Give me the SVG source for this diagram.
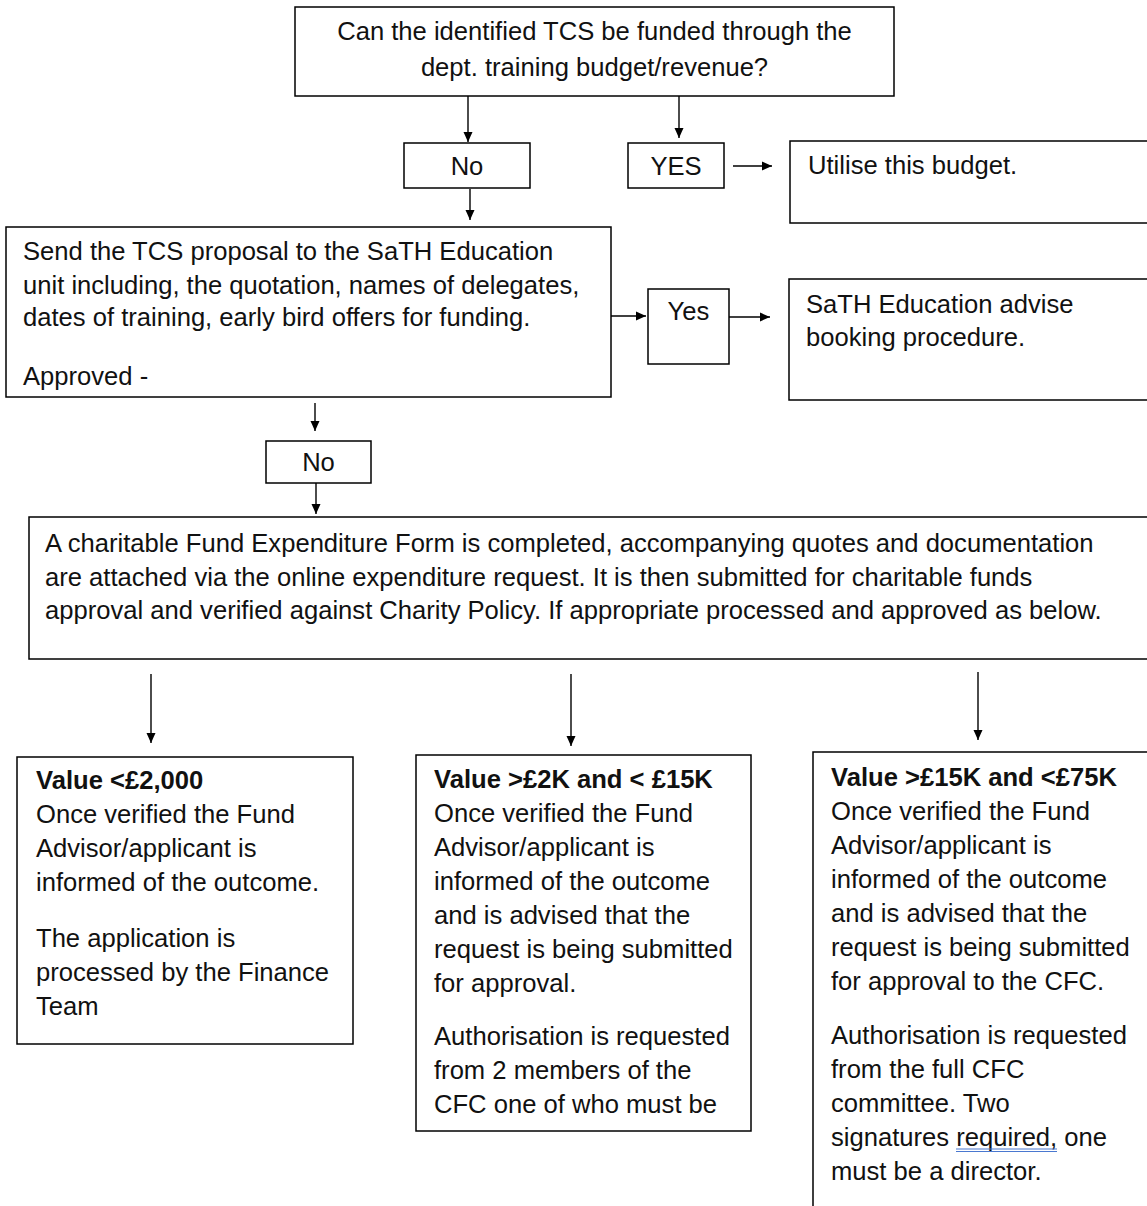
<svg xmlns="http://www.w3.org/2000/svg" width="1147" height="1206" viewBox="0 0 1147 1206">
<defs>
<marker id="ah" viewBox="0 0 10 10" refX="10" refY="5" markerWidth="10" markerHeight="10" markerUnits="userSpaceOnUse" orient="auto">
<path d="M0,0.5 L10,5 L0,9.5 Z" fill="#000"/>
</marker>
</defs>
<style>
.box{fill:#fff;stroke:#000;stroke-width:1.5}
.t{font-family:"Liberation Sans",Arial,sans-serif;font-size:25.6px;fill:#111}
.b{font-weight:bold}
.c{text-anchor:middle}
.ln{stroke:#000;stroke-width:1.4;fill:none;marker-end:url(#ah)}
</style>
<rect width="1147" height="1206" fill="#fff"/>

<g id="connectors">
<path class="ln" d="M468,96 V142"/>
<path class="ln" d="M679,96 V138"/>
<path class="ln" d="M733,166 H772" stroke="#555"/>
<path class="ln" d="M470,189 V220"/>
<path class="ln" d="M611,316 H646"/>
<path class="ln" d="M729,317 H770"/>
<path class="ln" d="M315,403 V431"/>
<path class="ln" d="M316,483 V514"/>
<path class="ln" d="M151,674 V743"/>
<path class="ln" d="M571,674 V746"/>
<path class="ln" d="M978,672 V740"/>
</g>

<g id="n-question">
<rect class="box" x="295" y="7" width="599" height="89"/>
<text class="t c" x="594.5" y="40">Can the identified TCS be funded through the</text>
<text class="t c" x="594.5" y="76">dept. training budget/revenue?</text>
</g>

<g id="n-no1">
<rect class="box" x="404" y="143" width="126" height="45"/>
<text class="t c" x="467" y="175">No</text>
</g>

<g id="n-yes1">
<rect class="box" x="628" y="143" width="96" height="45"/>
<text class="t c" x="676" y="175">YES</text>
</g>

<g id="n-utilise">
<rect class="box" x="790" y="141" width="380" height="82"/>
<text class="t" x="808" y="174">Utilise this budget.</text>
</g>

<g id="n-send">
<rect class="box" x="6" y="227" width="605" height="170"/>
<text class="t" x="23" y="260">Send the TCS proposal to the SaTH Education</text>
<text class="t" x="23" y="294">unit including, the quotation, names of delegates,</text>
<text class="t" x="23" y="326">dates of training, early bird offers for funding.</text>
<text class="t" x="23" y="385">Approved -</text>
</g>

<g id="n-yes2">
<rect class="box" x="648" y="289" width="81" height="75"/>
<text class="t c" x="688.5" y="320">Yes</text>
</g>

<g id="n-sath">
<rect class="box" x="789" y="279" width="380" height="121"/>
<text class="t" x="806" y="313">SaTH Education advise</text>
<text class="t" x="806" y="346">booking procedure.</text>
</g>

<g id="n-no2">
<rect class="box" x="266" y="441" width="105" height="42"/>
<text class="t c" x="318.5" y="471">No</text>
</g>

<g id="n-charitable">
<rect class="box" x="29" y="517" width="1140" height="142"/>
<text class="t" x="45" y="552">A charitable Fund Expenditure Form is completed, accompanying quotes and documentation</text>
<text class="t" x="45" y="586">are attached via the online expenditure request. It is then submitted for charitable funds</text>
<text class="t" x="45" y="619">approval and verified against Charity Policy. If appropriate processed and approved as below.</text>
</g>

<g id="n-low">
<rect class="box" x="17" y="757" width="336" height="287"/>
<text class="t b" x="36" y="789">Value &lt;£2,000</text>
<text class="t" x="36" y="823">Once verified the Fund</text>
<text class="t" x="36" y="857">Advisor/applicant is</text>
<text class="t" x="36" y="891">informed of the outcome.</text>
<text class="t" x="36" y="947">The application is</text>
<text class="t" x="36" y="981">processed by the Finance</text>
<text class="t" x="36" y="1015">Team</text>
</g>

<g id="n-mid">
<rect class="box" x="416" y="755" width="335" height="376"/>
<text class="t b" x="434" y="788">Value &gt;£2K and &lt; £15K</text>
<text class="t" x="434" y="822">Once verified the Fund</text>
<text class="t" x="434" y="856">Advisor/applicant is</text>
<text class="t" x="434" y="890">informed of the outcome</text>
<text class="t" x="434" y="924">and is advised that the</text>
<text class="t" x="434" y="958">request is being submitted</text>
<text class="t" x="434" y="992">for approval.</text>
<text class="t" x="434" y="1045">Authorisation is requested</text>
<text class="t" x="434" y="1079">from 2 members of the</text>
<text class="t" x="434" y="1113">CFC one of who must be</text>
</g>

<g id="n-high">
<rect class="box" x="813" y="752" width="360" height="480"/>
<text class="t b" x="831" y="786">Value &gt;£15K and &lt;£75K</text>
<text class="t" x="831" y="820">Once verified the Fund</text>
<text class="t" x="831" y="854">Advisor/applicant is</text>
<text class="t" x="831" y="888">informed of the outcome</text>
<text class="t" x="831" y="922">and is advised that the</text>
<text class="t" x="831" y="956">request is being submitted</text>
<text class="t" x="831" y="990">for approval to the CFC.</text>
<text class="t" x="831" y="1044">Authorisation is requested</text>
<text class="t" x="831" y="1078">from the full CFC</text>
<text class="t" x="831" y="1112">committee. Two</text>
<text class="t" x="831" y="1146">signatures required, one</text>
<text class="t" x="831" y="1180">must be a director.</text>
<path d="M956,1149 H1057 M956,1151.5 H1057" stroke="#4a78d0" stroke-width="1.2" fill="none"/>
</g>
</svg>
